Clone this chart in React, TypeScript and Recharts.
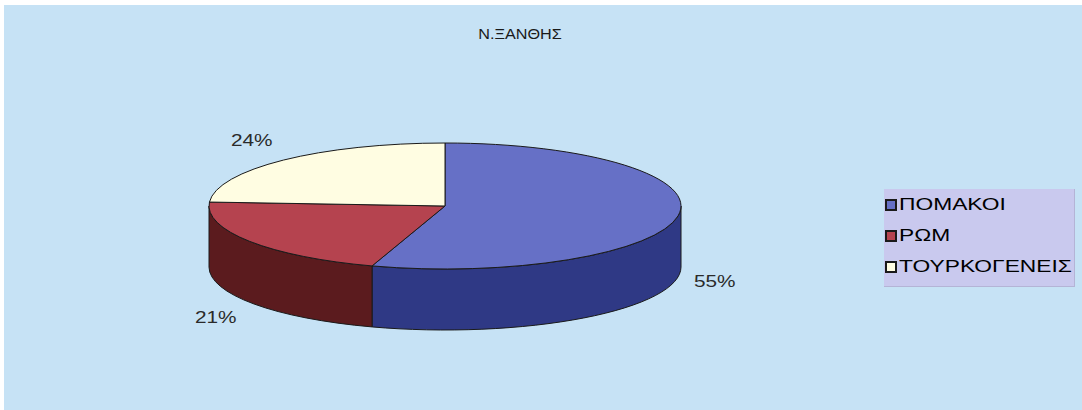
import React from 'react';
import { PieChart, Pie, Cell, Legend } from 'recharts';

const groups = ['ΠΟΜΑΚΟΙ', 'ΡΩΜ', 'ΤΟΥΡΚΟΓΕΝΕΙΣ'];
const shares = [55, 21, 24];
const chartTitle = 'Ν.ΞΑΝΘΗΣ';

const TOP_COLORS = ['#6670C6', '#B5434F', '#FFFDE2'];
const WALL_COLORS = ['#2F3985', '#5B1B1E', '#C9C6A8'];

const data = groups.map((name, i) => ({ name, value: shares[i] }));

const RAD = Math.PI / 180;
const TILT = 63 / 236; // vertical squash of the tilted disc
const DEPTH = 61;
const FONT = '"Liberation Sans", Arial, sans-serif';

const pt = (cx: number, cy: number, rx: number, ry: number, a: number) => [
  cx + rx * Math.cos(a * RAD),
  cy - ry * Math.sin(a * RAD),
];

// top face + the front wall of one slice
const Slice3D = (props: any) => {
  const { cx, cy, outerRadius, startAngle, endAngle, fill } = props;
  const rx = outerRadius;
  const ry = outerRadius * TILT;
  const hi = Math.max(startAngle, endAngle);
  const lo = Math.min(startAngle, endAngle);
  const idx = TOP_COLORS.indexOf(fill);
  const wall = idx >= 0 ? WALL_COLORS[idx] : fill;

  const walls: string[] = [];
  for (let k = -2; k <= 2; k++) {
    const a = Math.max(lo, -180 + 360 * k);
    const b = Math.min(hi, 360 * k);
    if (b - a > 0.01) {
      const [x1, y1] = pt(cx, cy, rx, ry, b);
      const [x2, y2] = pt(cx, cy, rx, ry, a);
      walls.push(
        `M${x1},${y1} A${rx},${ry} 0 0 1 ${x2},${y2} L${x2},${y2 + DEPTH} A${rx},${ry} 0 0 0 ${x1},${y1 + DEPTH} Z`
      );
    }
  }

  const [sx, sy] = pt(cx, cy, rx, ry, hi);
  const [ex, ey] = pt(cx, cy, rx, ry, lo);
  const large = hi - lo > 180 ? 1 : 0;
  const top = `M${cx},${cy} L${sx},${sy} A${rx},${ry} 0 ${large} 1 ${ex},${ey} Z`;

  return (
    <g>
      {walls.map((d, i) => (
        <path key={i} d={d} fill={wall} stroke="#1a1a1a" strokeWidth={1} />
      ))}
      <path d={top} fill={fill} stroke="#1a1a1a" strokeWidth={1} />
    </g>
  );
};

const renderLabel = (p: any) => {
  const { cx, cy, midAngle, outerRadius, percent } = p;
  const ry = outerRadius * TILT;
  const c = Math.cos(midAngle * RAD);
  const s = Math.sin(midAngle * RAD);
  const x = cx + (outerRadius + 16) * c;
  const y = cy - (ry + 27.5) * s + (s < 0 ? DEPTH : 0);
  return (
    <text
      transform={`translate(${x},${y}) scale(1.3,1)`}
      textAnchor={c >= 0 ? 'start' : 'end'}
      dominantBaseline="central"
      fontSize={16}
      fontFamily={FONT}
      fill="#2a2a2a"
    >
      {`${Math.round(percent * 100)}%`}
    </text>
  );
};

const LegendBox = (props: any) => {
  const payload = props.payload || [];
  return (
    <div
      style={{
        width: 191,
        height: 98,
        background: '#C9C9EE',
        boxSizing: 'border-box',
        borderRight: '1px solid #b4b4d6',
        borderBottom: '1px solid #b4b4d6',
      }}
    >
      {payload.map((entry: any, i: number) => {
        const gi = groups.indexOf(entry.value);
        const color = gi >= 0 ? TOP_COLORS[gi] : entry.color;
        return (
          <div key={i} style={{ height: 31, display: 'flex', alignItems: 'center', paddingLeft: 1 }}>
            <span
              style={{
                width: 8,
                height: 8,
                background: color,
                border: '2px solid #1a1a1a',
                display: 'inline-block',
                flex: 'none',
              }}
            />
            <span
              style={{
                marginLeft: 2,
                fontFamily: FONT,
                fontSize: 17,
                color: '#000',
                display: 'inline-block',
                transform: 'scaleX(1.34)',
                transformOrigin: 'left center',
                whiteSpace: 'nowrap',
              }}
            >
              {entry.value}
            </span>
          </div>
        );
      })}
    </div>
  );
};

export default function App() {
  return (
    <div style={{ position: 'relative', width: 1082, height: 410, background: '#fff', overflow: 'hidden' }}>
      <style>{'body{margin:0}'}</style>
      <div style={{ position: 'absolute', left: 4, top: 5, right: 0, bottom: 0, background: '#C6E2F5' }} />
      <div
        style={{
          position: 'absolute',
          top: 25,
          left: 520,
          transform: 'translateX(-50%) scaleX(1.08)',
          fontFamily: FONT,
          fontSize: 15,
          color: '#1a1a1a',
          whiteSpace: 'nowrap',
        }}
      >
        {chartTitle}
      </div>
      <div style={{ position: 'absolute', left: 0, top: 0 }}>
        <PieChart width={1082} height={410} margin={{ top: 0, right: 0, bottom: 0, left: 0 }}>
          <Pie
            data={data}
            dataKey="value"
            nameKey="name"
            cx={445}
            cy={206}
            outerRadius={236}
            startAngle={90}
            endAngle={-270}
            stroke="none"
            shape={Slice3D}
            activeShape={Slice3D}
            inactiveShape={Slice3D}
            label={renderLabel}
            labelLine={false}
            isAnimationActive={false}
          >
            {data.map((_, i) => (
              <Cell key={`cell-${i}`} fill={TOP_COLORS[i]} />
            ))}
          </Pie>
          <Legend
            layout="vertical"
            align="right"
            verticalAlign="top"
            content={LegendBox}
            wrapperStyle={{ left: 884, top: 189, width: 191, height: 98 }}
          />
        </PieChart>
      </div>
    </div>
  );
}
